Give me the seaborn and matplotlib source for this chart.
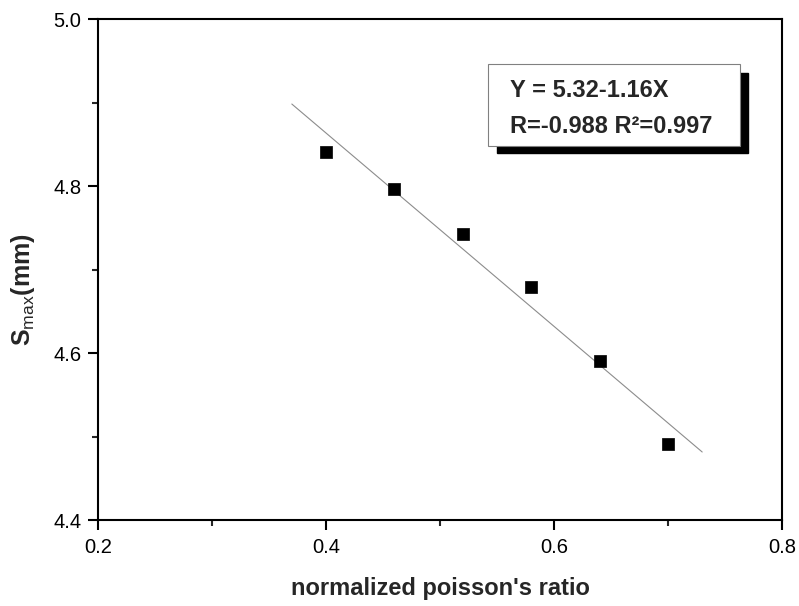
import numpy as np
import pandas as pd
import matplotlib
matplotlib.use('Agg')
import matplotlib.pyplot as plt
from matplotlib.patches import Rectangle
from matplotlib.ticker import MultipleLocator, FormatStrFormatter
import seaborn as sns

# data
poisson = [0.40, 0.46, 0.52, 0.58, 0.64, 0.70]
s_max = [4.841, 4.796, 4.742, 4.679, 4.590, 4.491]
fit_range = [0.37, 0.73]
eq_lines = ['Y = 5.32-1.16X', 'R=-0.988 R\u00b2=0.997']

df = pd.DataFrame({'x': poisson, 'y': s_max})
slope, intercept = np.polyfit(df['x'], df['y'], 1)
fit_df = pd.DataFrame({'x': fit_range})
fit_df['y'] = intercept + slope * fit_df['x']

sns.set_style('ticks')
plt.rcParams['font.family'] = ['Liberation Sans', 'DejaVu Sans']
plt.rcParams['mathtext.fontset'] = 'custom'
plt.rcParams['mathtext.rm'] = 'Liberation Sans'
plt.rcParams['mathtext.bf'] = 'Liberation Sans:bold'

fig = plt.figure(figsize=(7.99, 6.06), dpi=100)
ax = fig.add_axes([0.1227, 0.1419, 0.856, 0.8267])

sns.lineplot(data=fit_df, x='x', y='y', ax=ax, color='#8c8c8c', linewidth=0.8)
sns.scatterplot(data=df, x='x', y='y', ax=ax, marker='s', s=68,
                color='black', edgecolor='black', linewidth=0.5, zorder=3)

ax.set_xlim(0.2, 0.8)
ax.set_ylim(4.4, 5.0)
ax.xaxis.set_major_locator(MultipleLocator(0.2))
ax.xaxis.set_minor_locator(MultipleLocator(0.1))
ax.yaxis.set_major_locator(MultipleLocator(0.2))
ax.yaxis.set_minor_locator(MultipleLocator(0.1))
ax.xaxis.set_major_formatter(FormatStrFormatter('%.1f'))
ax.yaxis.set_major_formatter(FormatStrFormatter('%.1f'))

for sp in ax.spines.values():
    sp.set_linewidth(1.5)
    sp.set_color('black')
ax.tick_params(which='major', direction='out', length=7, width=1.5,
               labelsize=14.5, colors='black')
ax.tick_params(which='minor', direction='out', length=4, width=1.5)
ax.tick_params(axis='x', which='major', pad=6)
ax.tick_params(axis='y', which='major', pad=5)

ax.set_xlabel("normalized poisson's ratio", fontsize=17, fontweight='bold')
ax.set_ylabel(r'$\mathbf{S}_{\mathrm{max}}$(mm)', fontsize=18, fontweight='bold')
ax.xaxis.set_label_coords(0.5, -0.114)
ax.yaxis.set_label_coords(-0.089, 0.459)

# equation box with drop shadow
ax.add_patch(Rectangle((0.5833, 0.7325), 0.367, 0.1595, transform=ax.transAxes,
                       facecolor='black', edgecolor='black', zorder=4))
ax.add_patch(Rectangle((0.570, 0.7465), 0.3686, 0.1635, transform=ax.transAxes,
                       facecolor='white', edgecolor='#808080', linewidth=0.8, zorder=5))
ax.text(0.6023, 0.845, eq_lines[0], transform=ax.transAxes,
        fontsize=17, fontweight='bold', va='baseline', zorder=6)
ax.text(0.6023, 0.773, eq_lines[1], transform=ax.transAxes,
        fontsize=17, fontweight='bold', va='baseline', zorder=6)

fig.savefig('out.png', dpi=100)
plt.close(fig)
